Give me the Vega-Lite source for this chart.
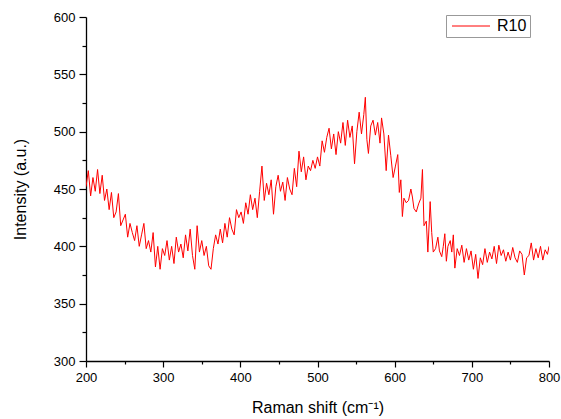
{
  "$schema": "https://vega.github.io/schema/vega-lite/v6.json",
  "autosize": {"type": "none"},
  "width": 463,
  "height": 344,
  "padding": {"left": 86, "top": 17, "right": 12, "bottom": 58},
  "background": "white",
  "config": {
    "view": {"stroke": null},
    "font": "Liberation Sans",
    "axis": {"grid": false, "domainColor": "black", "domainWidth": 1.3, "tickColor": "black", "tickWidth": 1.2, "labelColor": "black", "titleColor": "black", "labelFont": "Liberation Sans", "titleFont": "Liberation Sans", "labelFontSize": 13, "titleFontSize": 16, "titleFontWeight": "normal"}
  },
  "data": {"values": [
    {"x":200,"y":452,"s":"R10"},{"x":203,"y":466,"s":"R10"},{"x":206,"y":444,"s":"R10"},{"x":209,"y":460,"s":"R10"},{"x":212,"y":448,"s":"R10"},{"x":215,"y":467,"s":"R10"},{"x":218,"y":446,"s":"R10"},{"x":221,"y":462,"s":"R10"},{"x":224,"y":440,"s":"R10"},{"x":227,"y":450,"s":"R10"},{"x":230,"y":432,"s":"R10"},{"x":233,"y":447,"s":"R10"},{"x":236,"y":425,"s":"R10"},{"x":239,"y":430,"s":"R10"},{"x":242,"y":446,"s":"R10"},{"x":245,"y":418,"s":"R10"},{"x":248,"y":423,"s":"R10"},{"x":251,"y":428,"s":"R10"},{"x":254,"y":408,"s":"R10"},{"x":257,"y":420,"s":"R10"},{"x":260,"y":412,"s":"R10"},{"x":263,"y":405,"s":"R10"},{"x":266,"y":418,"s":"R10"},{"x":269,"y":400,"s":"R10"},{"x":272,"y":410,"s":"R10"},{"x":275,"y":420,"s":"R10"},{"x":278,"y":398,"s":"R10"},{"x":281,"y":405,"s":"R10"},{"x":284,"y":395,"s":"R10"},{"x":287,"y":412,"s":"R10"},{"x":290,"y":382,"s":"R10"},{"x":293,"y":400,"s":"R10"},{"x":296,"y":380,"s":"R10"},{"x":299,"y":398,"s":"R10"},
    {"x":302,"y":392,"s":"R10"},{"x":305,"y":405,"s":"R10"},{"x":308,"y":388,"s":"R10"},{"x":311,"y":400,"s":"R10"},{"x":314,"y":385,"s":"R10"},{"x":317,"y":408,"s":"R10"},{"x":320,"y":395,"s":"R10"},{"x":323,"y":402,"s":"R10"},{"x":326,"y":390,"s":"R10"},{"x":329,"y":410,"s":"R10"},{"x":332,"y":396,"s":"R10"},{"x":335,"y":415,"s":"R10"},{"x":338,"y":392,"s":"R10"},{"x":341,"y":380,"s":"R10"},{"x":344,"y":418,"s":"R10"},{"x":347,"y":395,"s":"R10"},{"x":350,"y":405,"s":"R10"},{"x":353,"y":392,"s":"R10"},{"x":356,"y":400,"s":"R10"},{"x":359,"y":383,"s":"R10"},{"x":362,"y":380,"s":"R10"},{"x":365,"y":398,"s":"R10"},{"x":368,"y":410,"s":"R10"},{"x":371,"y":402,"s":"R10"},{"x":374,"y":415,"s":"R10"},{"x":377,"y":403,"s":"R10"},{"x":380,"y":420,"s":"R10"},{"x":383,"y":408,"s":"R10"},{"x":386,"y":425,"s":"R10"},{"x":389,"y":415,"s":"R10"},{"x":392,"y":410,"s":"R10"},{"x":395,"y":432,"s":"R10"},{"x":398,"y":425,"s":"R10"},
    {"x":401,"y":430,"s":"R10"},{"x":404,"y":420,"s":"R10"},{"x":407,"y":438,"s":"R10"},{"x":410,"y":428,"s":"R10"},{"x":413,"y":445,"s":"R10"},{"x":416,"y":432,"s":"R10"},{"x":419,"y":442,"s":"R10"},{"x":422,"y":425,"s":"R10"},{"x":425,"y":448,"s":"R10"},{"x":428,"y":470,"s":"R10"},{"x":431,"y":440,"s":"R10"},{"x":434,"y":455,"s":"R10"},{"x":437,"y":445,"s":"R10"},{"x":440,"y":458,"s":"R10"},{"x":443,"y":428,"s":"R10"},{"x":446,"y":452,"s":"R10"},{"x":449,"y":462,"s":"R10"},{"x":452,"y":448,"s":"R10"},{"x":455,"y":456,"s":"R10"},{"x":458,"y":440,"s":"R10"},{"x":461,"y":460,"s":"R10"},{"x":464,"y":450,"s":"R10"},{"x":467,"y":445,"s":"R10"},{"x":470,"y":468,"s":"R10"},{"x":473,"y":452,"s":"R10"},{"x":476,"y":483,"s":"R10"},{"x":479,"y":465,"s":"R10"},{"x":482,"y":478,"s":"R10"},{"x":485,"y":458,"s":"R10"},{"x":488,"y":470,"s":"R10"},{"x":491,"y":466,"s":"R10"},{"x":494,"y":475,"s":"R10"},{"x":497,"y":468,"s":"R10"},
    {"x":500,"y":478,"s":"R10"},{"x":503,"y":470,"s":"R10"},{"x":506,"y":492,"s":"R10"},{"x":509,"y":482,"s":"R10"},{"x":512,"y":495,"s":"R10"},{"x":515,"y":503,"s":"R10"},{"x":518,"y":485,"s":"R10"},{"x":521,"y":498,"s":"R10"},{"x":524,"y":480,"s":"R10"},{"x":527,"y":500,"s":"R10"},{"x":530,"y":490,"s":"R10"},{"x":533,"y":508,"s":"R10"},{"x":536,"y":488,"s":"R10"},{"x":539,"y":510,"s":"R10"},{"x":542,"y":495,"s":"R10"},{"x":545,"y":505,"s":"R10"},{"x":548,"y":472,"s":"R10"},{"x":551,"y":500,"s":"R10"},{"x":554,"y":517,"s":"R10"},{"x":557,"y":498,"s":"R10"},{"x":560,"y":515,"s":"R10"},{"x":562,"y":530,"s":"R10"},{"x":564,"y":493,"s":"R10"},{"x":566,"y":481,"s":"R10"},{"x":569,"y":505,"s":"R10"},{"x":572,"y":510,"s":"R10"},{"x":575,"y":497,"s":"R10"},{"x":578,"y":508,"s":"R10"},{"x":581,"y":490,"s":"R10"},{"x":583,"y":512,"s":"R10"},{"x":586,"y":498,"s":"R10"},{"x":589,"y":466,"s":"R10"},{"x":592,"y":497,"s":"R10"},{"x":595,"y":479,"s":"R10"},{"x":598,"y":460,"s":"R10"},
    {"x":601,"y":470,"s":"R10"},{"x":604,"y":480,"s":"R10"},{"x":606,"y":447,"s":"R10"},{"x":608,"y":458,"s":"R10"},{"x":610,"y":426,"s":"R10"},{"x":612,"y":442,"s":"R10"},{"x":615,"y":438,"s":"R10"},{"x":618,"y":440,"s":"R10"},{"x":621,"y":450,"s":"R10"},{"x":623,"y":443,"s":"R10"},{"x":625,"y":433,"s":"R10"},{"x":628,"y":430,"s":"R10"},{"x":631,"y":437,"s":"R10"},{"x":634,"y":442,"s":"R10"},{"x":636,"y":467,"s":"R10"},{"x":638,"y":418,"s":"R10"},{"x":641,"y":422,"s":"R10"},{"x":643,"y":395,"s":"R10"},{"x":646,"y":439,"s":"R10"},{"x":648,"y":412,"s":"R10"},{"x":650,"y":395,"s":"R10"},{"x":653,"y":398,"s":"R10"},{"x":656,"y":408,"s":"R10"},{"x":658,"y":396,"s":"R10"},{"x":661,"y":391,"s":"R10"},{"x":663,"y":400,"s":"R10"},{"x":665,"y":411,"s":"R10"},{"x":667,"y":387,"s":"R10"},{"x":669,"y":400,"s":"R10"},{"x":672,"y":405,"s":"R10"},{"x":674,"y":395,"s":"R10"},{"x":676,"y":410,"s":"R10"},{"x":678,"y":381,"s":"R10"},{"x":681,"y":398,"s":"R10"},{"x":684,"y":392,"s":"R10"},{"x":687,"y":401,"s":"R10"},{"x":690,"y":386,"s":"R10"},{"x":693,"y":398,"s":"R10"},{"x":696,"y":388,"s":"R10"},{"x":699,"y":396,"s":"R10"},
    {"x":702,"y":380,"s":"R10"},{"x":705,"y":393,"s":"R10"},{"x":708,"y":372,"s":"R10"},{"x":711,"y":390,"s":"R10"},{"x":714,"y":384,"s":"R10"},{"x":717,"y":398,"s":"R10"},{"x":720,"y":386,"s":"R10"},{"x":723,"y":395,"s":"R10"},{"x":726,"y":389,"s":"R10"},{"x":729,"y":400,"s":"R10"},{"x":732,"y":385,"s":"R10"},{"x":735,"y":401,"s":"R10"},{"x":738,"y":392,"s":"R10"},{"x":741,"y":397,"s":"R10"},{"x":744,"y":387,"s":"R10"},{"x":747,"y":395,"s":"R10"},{"x":750,"y":388,"s":"R10"},{"x":753,"y":399,"s":"R10"},{"x":756,"y":390,"s":"R10"},{"x":759,"y":386,"s":"R10"},{"x":762,"y":396,"s":"R10"},{"x":765,"y":393,"s":"R10"},{"x":768,"y":375,"s":"R10"},{"x":771,"y":390,"s":"R10"},{"x":774,"y":392,"s":"R10"},{"x":777,"y":403,"s":"R10"},{"x":780,"y":388,"s":"R10"},{"x":783,"y":398,"s":"R10"},{"x":786,"y":390,"s":"R10"},{"x":789,"y":400,"s":"R10"},{"x":792,"y":388,"s":"R10"},{"x":795,"y":397,"s":"R10"},{"x":798,"y":393,"s":"R10"},{"x":800,"y":400,"s":"R10"}
  ]},
  "mark": {"type": "line", "strokeWidth": 1, "clip": true},
  "encoding": {
    "x": {
      "field": "x", "type": "quantitative",
      "scale": {"domain": [200, 800], "nice": false, "zero": false},
      "axis": {
        "title": "Raman shift (cm⁻¹)",
        "values": [200,250,300,350,400,450,500,550,600,650,700,750,800],
        "labelExpr": "datum.value % 100 === 0 ? datum.label : ''",
        "tickSize": {"condition": {"test": "datum.value % 100 === 0", "value": 6}, "value": 3},
        "labelPadding": 4,
        "labelFlush": false,
        "titlePadding": 15
      }
    },
    "y": {
      "field": "y", "type": "quantitative",
      "scale": {"domain": [300, 600], "nice": false, "zero": false},
      "axis": {
        "title": "Intensity (a.u.)",
        "values": [300,325,350,375,400,425,450,475,500,525,550,575,600],
        "labelExpr": "datum.value % 50 === 0 ? datum.label : ''",
        "tickSize": {"condition": {"test": "datum.value % 50 === 0", "value": 7}, "value": 4},
        "labelPadding": 4,
        "labelFlush": false,
        "titlePadding": 25
      }
    },
    "color": {
      "field": "s", "type": "nominal",
      "scale": {"range": ["#ff0000"]},
      "legend": {
        "title": null,
        "orient": "none",
        "legendX": 360,
        "legendY": -2,
        "symbolType": "M-1,0H6.6",
        "symbolSize": 100,
        "symbolStrokeWidth": 1,
        "symbolFillColor": "transparent",
        "labelFontSize": 16,
        "labelFont": "Liberation Sans",
        "labelColor": "black",
        "labelOffset": 32,
        "padding": 3,
        "strokeColor": "#999999",
        "fillColor": "white"
      }
    }
  }
}
